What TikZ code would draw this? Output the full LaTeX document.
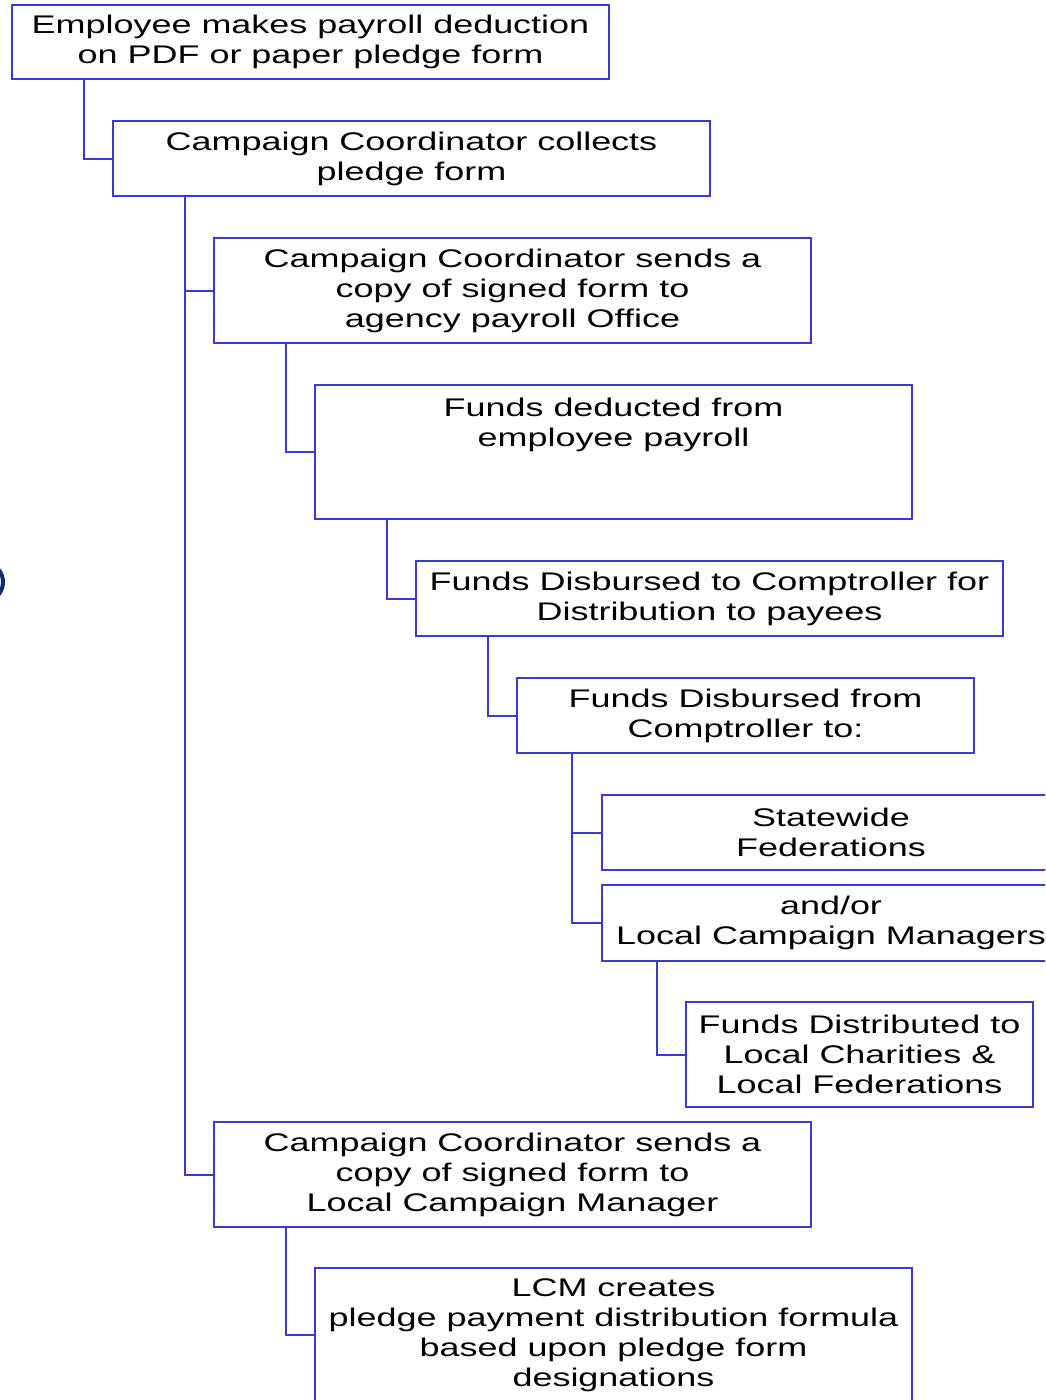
\documentclass[tikz,border=0pt]{standalone}
\usepackage{fontspec}
\setmainfont{Liberation Sans}[FakeStretch=1.41]
\definecolor{boxblue}{RGB}{58,58,210}
\definecolor{navy}{RGB}{20,40,120}
\begin{document}
\begin{tikzpicture}[x=1pt,y=-1pt,
  stepbox/.style={draw=boxblue,line width=2pt,fill=white,inner sep=0pt,align=center,
    font=\fontsize{25.5}{30}\selectfont,text=black},
  conn/.style={draw=boxblue,line width=2pt}]
\clip (0,0) rectangle (1045,1400);
\fill[white] (0,0) rectangle (1045,1400);
% fragment at left edge
\draw[navy,line width=4pt] (-17,582) ++(60:20) arc[start angle=60,end angle=-60,radius=20];
% boxes
\node[stepbox,minimum width=597pt,minimum height=74pt] (b1) at (310.5,42) {Employee makes payroll deduction\\on PDF or paper pledge form};
\node[stepbox,minimum width=597pt,minimum height=75pt] (b2) at (411.5,158.5) {Campaign Coordinator collects\\pledge form};
\node[stepbox,minimum width=597pt,minimum height=105pt] (b3) at (512.5,290.5) {Campaign Coordinator sends a\\copy of signed form to\\agency payroll Office};
\node[stepbox,minimum width=597pt,minimum height=134pt] (b4) at (613.5,452) {Funds deducted from\\employee payroll\\~\\~};
\node[stepbox,minimum width=587pt,minimum height=75pt] (b5) at (709.5,598.5) {Funds Disbursed to Comptroller for\\Distribution to payees};
\node[stepbox,minimum width=457pt,minimum height=75pt] (b6) at (745.5,715.5) {Funds Disbursed from\\Comptroller to:};
\node[stepbox,minimum width=458pt,minimum height=75pt] (b7) at (831,832.5) {Statewide\\Federations};
\node[stepbox,minimum width=458pt,minimum height=76pt] (b8) at (831,923) {and/or\\Local Campaign Managers};
\node[stepbox,minimum width=347pt,minimum height=105pt] (b9) at (859.5,1054.5) {Funds Distributed to\\Local Charities \&\\Local Federations};
\node[stepbox,minimum width=597pt,minimum height=105pt] (b10) at (512.5,1174.5) {Campaign Coordinator sends a\\copy of signed form to\\Local Campaign Manager};
\node[stepbox,minimum width=597pt,minimum height=134pt] (b11) at (613.5,1335) {LCM creates\\pledge payment distribution formula\\based upon pledge form\\designations};
% connectors
\draw[conn] ([xshift=73pt]b1.south west) |- (b2.west);
\draw[conn] ([xshift=73pt]b2.south west) |- (b3.west);
\draw[conn] ([xshift=73pt]b2.south west) |- (b10.west);
\draw[conn] ([xshift=73pt]b3.south west) |- (b4.west);
\draw[conn] ([xshift=73pt]b4.south west) |- (b5.west);
\draw[conn] ([xshift=73pt]b5.south west) |- (b6.west);
\draw[conn] ([xshift=56pt]b6.south west) |- (b7.west);
\draw[conn] ([xshift=56pt]b6.south west) |- (b8.west);
\draw[conn] ([xshift=56pt]b8.south west) |- (b9.west);
\draw[conn] ([xshift=73pt]b10.south west) |- (b11.west);
\end{tikzpicture}
\end{document}
